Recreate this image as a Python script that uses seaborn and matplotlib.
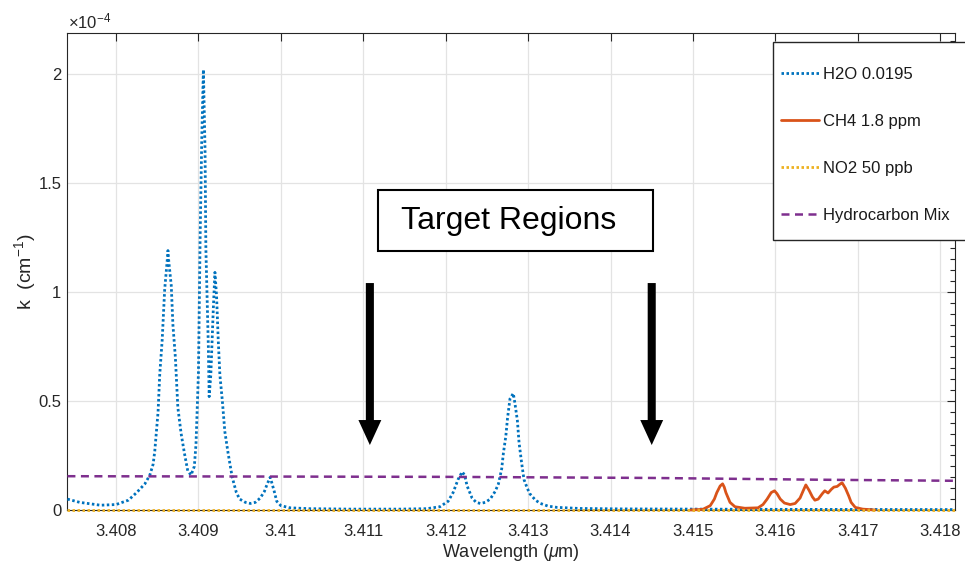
import matplotlib
matplotlib.use("Agg")
import matplotlib.pyplot as plt
from matplotlib.patches import Rectangle
from matplotlib.ticker import MultipleLocator, FixedLocator
import seaborn as sns

# ---------------- data (k in units of 1e-4 cm^-1) ----------------
h2o_wl = [3.40741, 3.40756, 3.40781, 3.40800, 3.40815, 3.40825, 3.40835, 3.40841,
          3.40845, 3.40847, 3.40851, 3.40853, 3.40856, 3.40859, 3.40862, 3.40863,
          3.40864, 3.40867, 3.40869, 3.40872, 3.40875, 3.40879, 3.40883, 3.40887,
          3.40891, 3.40895, 3.40897, 3.40900, 3.40902, 3.40904, 3.40906, 3.40908,
          3.40909, 3.40912, 3.40913, 3.40915, 3.40918, 3.40920, 3.40922, 3.40924,
          3.40926, 3.40929, 3.40932, 3.40936, 3.40941, 3.40946, 3.40950, 3.40957,
          3.40963, 3.40969, 3.40975, 3.40980, 3.40983, 3.40987, 3.40989, 3.40992,
          3.40995, 3.41000, 3.41011, 3.41035, 3.41084, 3.41145, 3.41177, 3.41193,
          3.41203, 3.41209, 3.41215, 3.41220, 3.41223, 3.41226, 3.41232, 3.41237,
          3.41242, 3.41248, 3.41254, 3.41260, 3.41264, 3.41268, 3.41270, 3.41273,
          3.41275, 3.41278, 3.41282, 3.41284, 3.41287, 3.41289, 3.41292, 3.41295,
          3.41299, 3.41302, 3.41309, 3.41315, 3.41324, 3.41335, 3.41363, 3.41412,
          3.41600, 3.41818]
h2o_k = [0.050, 0.035, 0.022, 0.025, 0.045, 0.080, 0.120, 0.160,
         0.210, 0.270, 0.450, 0.620, 0.780, 1.010, 1.140, 1.190,
         1.140, 1.030, 0.850, 0.700, 0.470, 0.350, 0.260, 0.180,
         0.160, 0.200, 0.300, 0.630, 1.240, 1.700, 2.020, 1.650,
         1.200, 0.750, 0.520, 0.620, 0.920, 1.090, 0.980, 0.780,
         0.620, 0.500, 0.360, 0.260, 0.150, 0.080, 0.050, 0.035,
         0.030, 0.035, 0.055, 0.085, 0.115, 0.150, 0.125, 0.085,
         0.040, 0.020, 0.010, 0.006, 0.004, 0.004, 0.006, 0.015,
         0.040, 0.080, 0.140, 0.175, 0.160, 0.110, 0.055, 0.035,
         0.030, 0.035, 0.050, 0.085, 0.120, 0.190, 0.260, 0.340,
         0.420, 0.510, 0.535, 0.490, 0.410, 0.310, 0.220, 0.140,
         0.100, 0.075, 0.045, 0.030, 0.018, 0.012, 0.007, 0.005,
         0.003, 0.002]

ch4_wl = [3.41497, 3.41512, 3.41521, 3.41526, 3.41529, 3.41533, 3.41536,
          3.41538, 3.41540, 3.41545, 3.41551, 3.41563, 3.41579, 3.41585, 3.41590,
          3.41595, 3.41599, 3.41602, 3.41606, 3.41611, 3.41618, 3.41624, 3.41630,
          3.41634, 3.41637, 3.41641, 3.41645, 3.41648, 3.41652, 3.41657, 3.41660,
          3.41664, 3.41668, 3.41671, 3.41675, 3.41679, 3.41681, 3.41685, 3.41689,
          3.41692, 3.41697, 3.41706, 3.41721]
ch4_k = [0.000, 0.003, 0.020, 0.050, 0.080, 0.110, 0.120,
         0.105, 0.080, 0.035, 0.015, 0.008, 0.010, 0.025, 0.050,
         0.080, 0.088, 0.075, 0.050, 0.032, 0.025, 0.030, 0.055,
         0.090, 0.115, 0.090, 0.060, 0.045, 0.050, 0.075, 0.088,
         0.078, 0.095, 0.105, 0.108, 0.120, 0.125, 0.100, 0.065,
         0.035, 0.012, 0.004, 0.000]

no2_wl = [3.40741, 3.41818]
no2_k = [0.0, 0.0]

hc_wl = [3.40741, 3.41200, 3.41450, 3.41650, 3.41818]
hc_k = [0.155, 0.152, 0.147, 0.139, 0.134]

labels = ["H2O 0.0195", "CH4 1.8 ppm", "NO2 50 ppb", "Hydrocarbon Mix"]
colors = ["#0072BD", "#D95319", "#EDB120", "#7E2F8E"]

xticks = [3.408, 3.409, 3.410, 3.411, 3.412, 3.413, 3.414, 3.415, 3.416, 3.417, 3.418]
xticklabels = ["3.408", "3.409", "3.41", "3.411", "3.412", "3.413", "3.414",
               "3.415", "3.416", "3.417", "3.418"]
yticks = [0, 0.5, 1.0, 1.5, 2.0]
yticklabels = ["0", "0.5", "1", "1.5", "2"]

arrow_wl = [3.41108, 3.41450]

# ---------------- style ----------------
sns.set_style("white")
plt.rcParams["font.family"] = ["Liberation Sans", "DejaVu Sans"]
plt.rcParams["mathtext.fontset"] = "custom"
plt.rcParams["mathtext.rm"] = "Liberation Sans"
plt.rcParams["mathtext.it"] = "Liberation Sans:italic"
plt.rcParams["mathtext.bf"] = "Liberation Sans:bold"

W, H = 965, 563
fig = plt.figure(figsize=(W / 100, H / 100), dpi=100)
ax = fig.add_axes([67 / W, 1 - 510 / H, (955 - 67) / W, (510 - 33) / H])

axc = "#262626"

sns.lineplot(x=h2o_wl, y=h2o_k, ax=ax, color=colors[0], lw=2.0,
             linestyle=(0, (0.9, 0.9)), label=labels[0], estimator=None, sort=False)
sns.lineplot(x=ch4_wl, y=ch4_k, ax=ax, color=colors[1], lw=2.0,
             linestyle="-", label=labels[1], estimator=None, sort=False)
sns.lineplot(x=no2_wl, y=no2_k, ax=ax, color=colors[2], lw=2.0,
             linestyle=(0, (0.9, 0.9)), label=labels[2], estimator=None, sort=False)
sns.lineplot(x=hc_wl, y=hc_k, ax=ax, color=colors[3], lw=1.8,
             linestyle=(0, (3.2, 2.2)), label=labels[3], estimator=None, sort=False)
for ln in ax.get_lines():
    ln.set_clip_on(False)
    ln.set_zorder(3)

ax.set_xlim(3.407405, 3.41818)
ax.set_ylim(0, 2.188)

ax.xaxis.set_major_locator(FixedLocator(xticks))
ax.set_xticklabels(xticklabels)
ax.yaxis.set_major_locator(FixedLocator(yticks))
ax.set_yticklabels(yticklabels)
ax.yaxis.set_minor_locator(MultipleLocator(0.05))

ax.grid(True, which="major", color="#e3e3e3", lw=0.9)
ax.set_axisbelow(True)
for s in ax.spines.values():
    s.set_visible(True)
    s.set_color(axc)
    s.set_linewidth(0.8)

ax.tick_params(which="both", direction="in", top=True, right=True,
               color=axc, labelcolor=axc, labelsize=12)
ax.tick_params(which="major", length=6, width=0.8)
ax.tick_params(axis="x", which="major", pad=10)
ax.tick_params(axis="y", which="major", pad=4)
ax.tick_params(which="minor", length=3.5, width=0.8)
ax.tick_params(axis="x", which="minor", length=0)

ax.set_xlabel(r"Wavelength ($\mu$m)", fontsize=13, color=axc, labelpad=2)
ax.set_ylabel(r"k  (cm$^{-1}$)", fontsize=14, color=axc, labelpad=0)

fig.text(68 / W, 1 - 28 / H, r"$\times10^{-4}$", fontsize=12, color=axc,
         ha="left", va="baseline")

# legend (figure level, with its own frame that runs past the right edge)
handles, labs = ax.get_legend_handles_labels()
if ax.get_legend() is not None:
    ax.get_legend().remove()
fig.add_artist(Rectangle((773 / W, 1 - 240 / H), 200 / W, (240 - 42) / H,
                         transform=fig.transFigure, facecolor="white",
                         edgecolor="#262626", lw=1.0, zorder=2))
leg = fig.legend(handles, labs, loc="upper left",
                 bbox_to_anchor=(773 / W, 1 - 58.5 / H),
                 frameon=False, fontsize=12,
                 labelspacing=1.92, borderpad=0.5, handlelength=2.28,
                 handletextpad=0.24, borderaxespad=0)
leg.set_zorder(5)
for t in leg.get_texts():
    t.set_color("#1a1a1a")

# "Target Regions" box
fig.add_artist(Rectangle((378 / W, 1 - 251 / H), (653 - 378) / W, (251 - 190) / H,
                         transform=fig.transFigure, fill=True, facecolor="white",
                         edgecolor="black", lw=1.5, zorder=2))
fig.text(509 / W, 1 - 221 / H, "Target Regions", fontsize=23, color="black",
         ha="center", va="center", zorder=5)

# arrows
y_top = 1.041
y_tip = 0.298
for xa in arrow_wl:
    ax.annotate("", xy=(xa, y_tip), xytext=(xa, y_top),
                arrowprops=dict(arrowstyle="simple,head_length=18,head_width=16.5,tail_width=5.8",
                                mutation_scale=1, color="black", shrinkA=0, shrinkB=0, lw=0))

fig.savefig("out.png", dpi=100)
